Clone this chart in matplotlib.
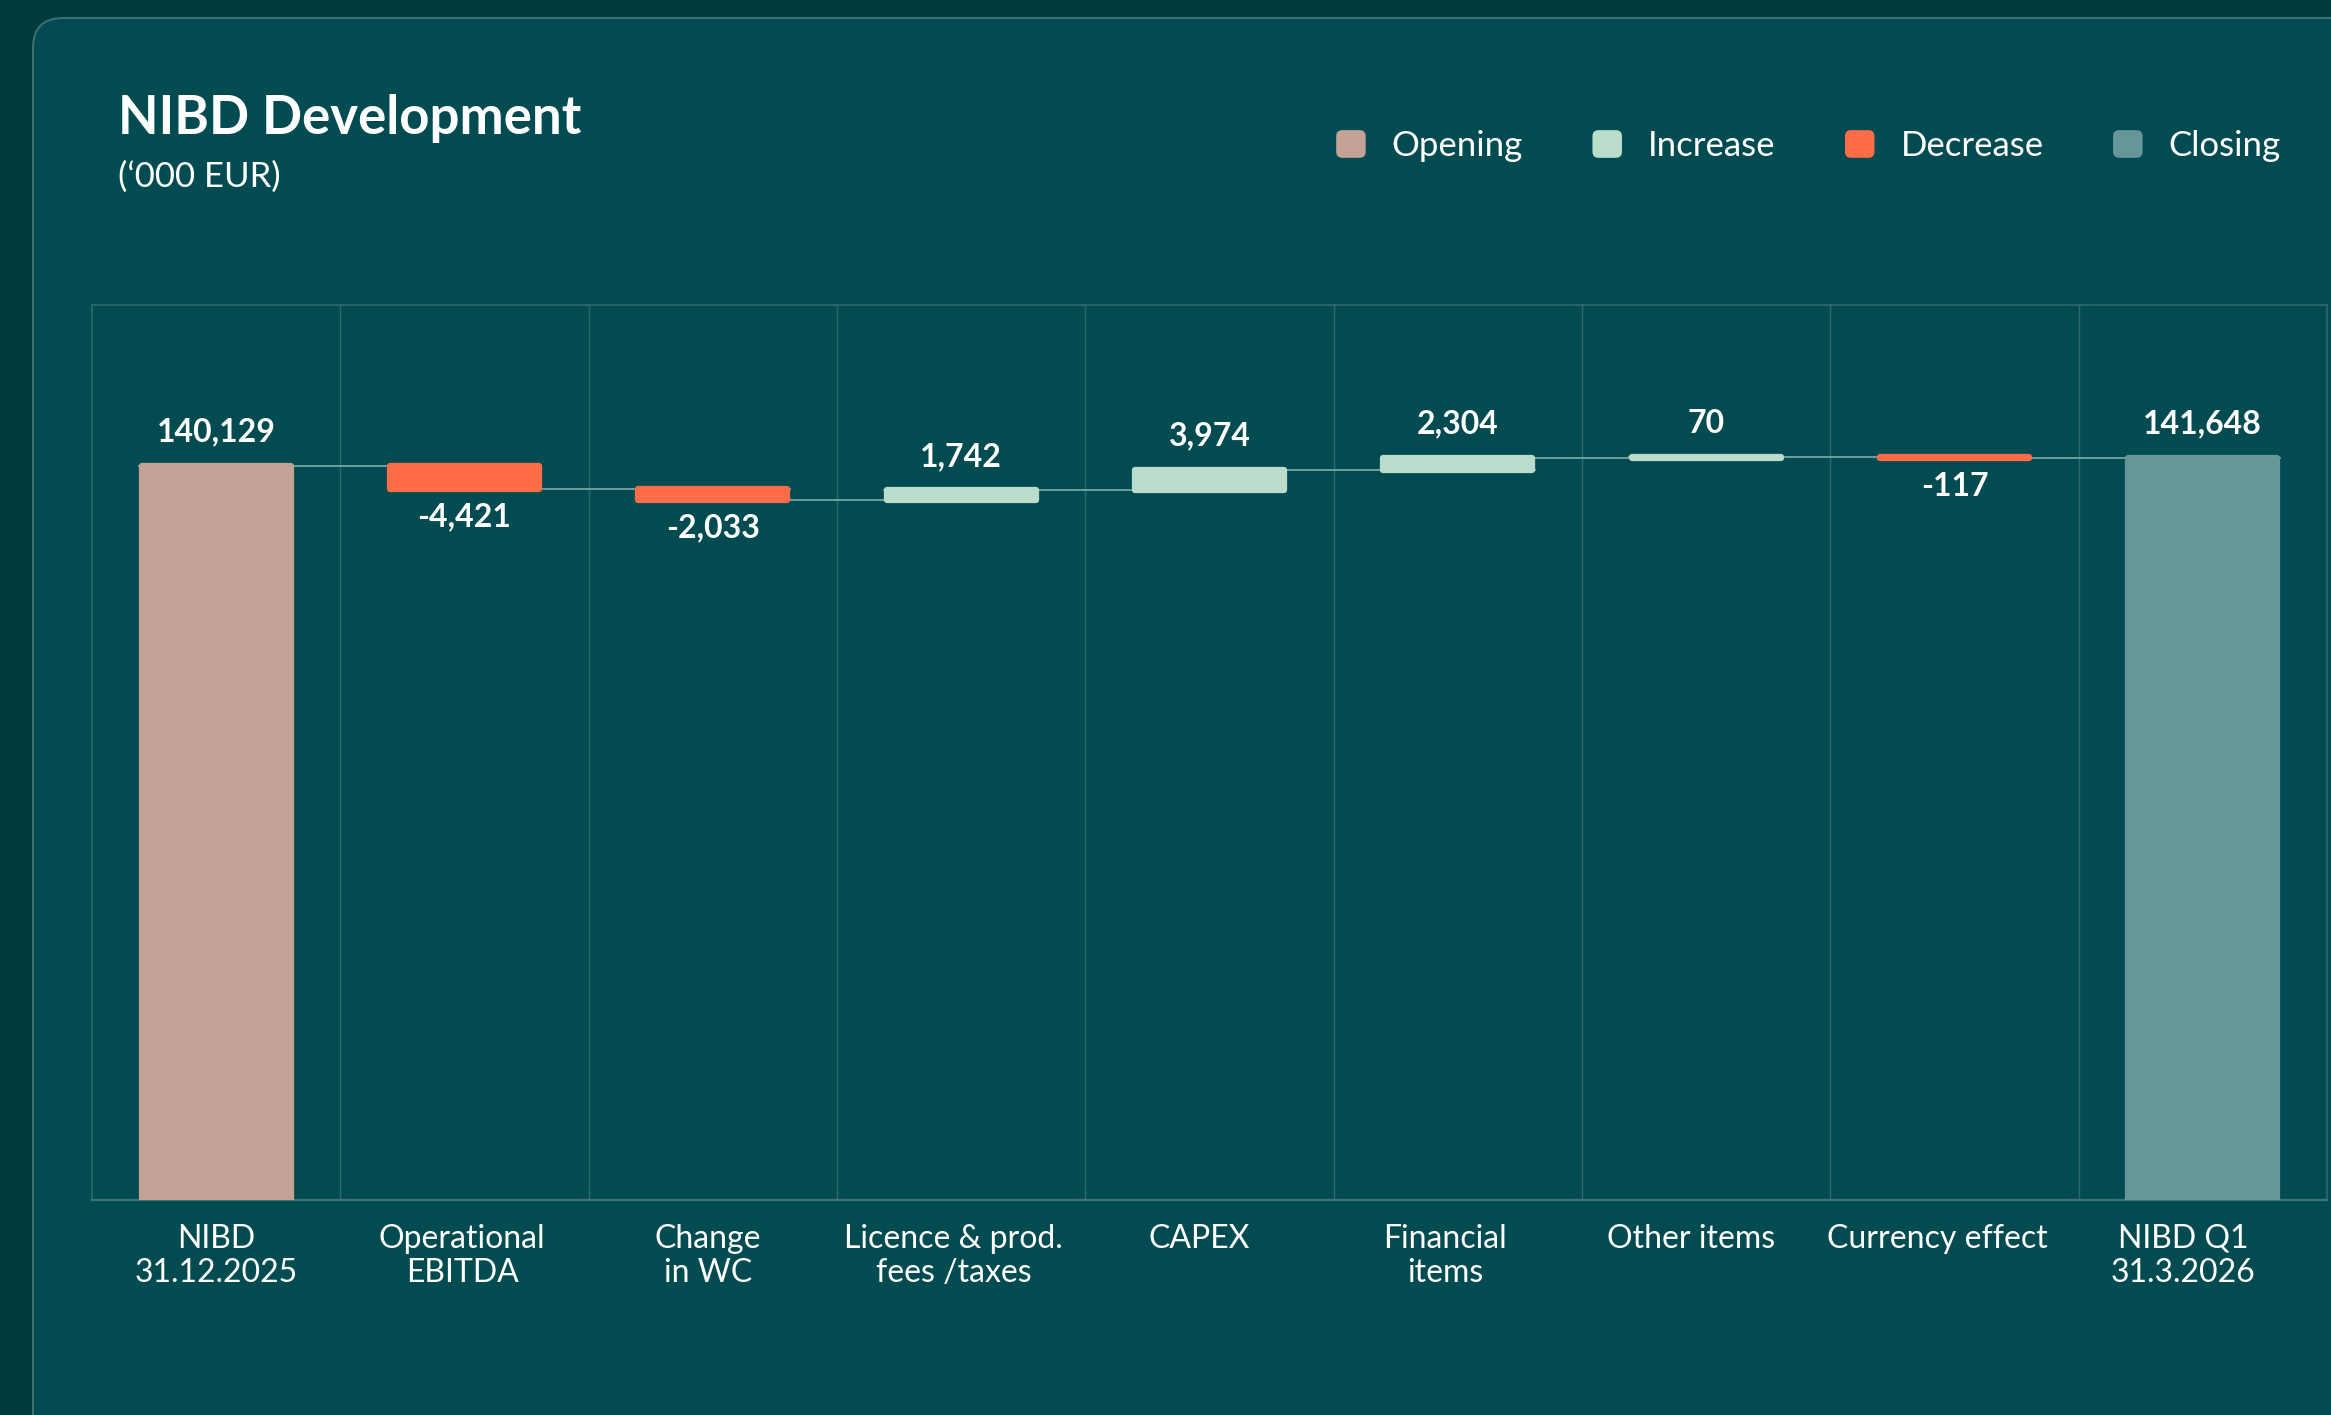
import matplotlib.pyplot as plt
import numpy as np
from matplotlib.patches import FancyBboxPatch, Patch
from matplotlib.legend_handler import HandlerPatch

# data ('000 EUR)
categories = ["NIBD\n31.12.2025", "Operational\nEBITDA", "Change\nin WC",
              "Licence & prod.\nfees /taxes", "CAPEX", "Financial\nitems",
              "Other items", "Currency effect", "NIBD Q1\n31.3.2026"]
opening = 140129
changes = [-4421, -2033, 1742, 3974, 2304, 70, -117]
closing = 141648
legend_labels = ["Opening", "Increase", "Decrease", "Closing"]

col_opening = "#c2a396"
col_increase = "#badccb"
col_decrease = "#ff6c48"
col_closing = "#66959a"
bg_outer = "#013a3e"
bg_card = "#024b50"
grid_col = "#2e6a6d"
conn_col = "#79a3a3"

plt.rcParams['font.family'] = ['Lato', 'DejaVu Sans']

levels = np.cumsum([opening] + changes)   # running total after each step
bottoms = [0] + list(levels[:-1]) + [0]
heights = [opening] + changes + [closing]
colors = [col_opening] + [col_increase if c > 0 else col_decrease for c in changes] + [col_closing]
x = np.arange(len(categories))
w = 0.6

fig = plt.figure(figsize=(23.31, 14.15), dpi=100, facecolor=bg_outer)
card = FancyBboxPatch((0.33, -1), 30, 14.15 - 0.18 + 1,
                      boxstyle="round,pad=0,rounding_size=0.3",
                      transform=fig.dpi_scale_trans, facecolor=bg_card,
                      edgecolor="#3b6f72", linewidth=1.5, zorder=-10)
fig.add_artist(card)

ax = fig.add_axes([92/2331, 1 - 1200/1415, (2327-92)/2331, (1200-305)/1415])
ax.set_facecolor('none')

ax.bar(x, heights, bottom=bottoms, width=w, color=colors, edgecolor=colors,
       linewidth=4.5, joinstyle='round', zorder=3)

# connectors between consecutive bars (drawn behind the bars)
for i in range(len(levels)):
    ax.plot([x[i] - w/2 - 0.01, x[i+1] + w/2 + 0.01], [levels[i], levels[i]],
            color=conn_col, lw=1.3, zorder=2)

# value labels
for i in range(len(heights)):
    h = heights[i]
    if i == 0 or i == len(heights) - 1 or h > 0:
        ax.annotate(f"{h:,}", (x[i], bottoms[i] + h), xytext=(0, 14),
                    textcoords='offset points', ha='center', va='bottom',
                    color='white', fontsize=23, fontweight='bold')
    else:
        ax.annotate(f"{h:,}", (x[i], bottoms[i] + h), xytext=(0, -10),
                    textcoords='offset points', ha='center', va='top',
                    color='white', fontsize=23, fontweight='bold')

for b in x[:-1] + 0.5:
    ax.axvline(b, color=grid_col, lw=1, zorder=1)

ax.set_xlim(-0.5, 8.5)
ax.set_ylim(0, 170800)
ax.set_yticks([])
ax.set_xticks(x * 0.99)
ax.set_xticklabels(categories, fontsize=23, color='white', fontweight='normal')
ax.tick_params(axis='x', length=0, pad=17)
for s in ax.spines.values():
    s.set_color(grid_col)
    s.set_linewidth(1.2)
ax.spines['bottom'].set_color("#3f7578")
ax.spines['bottom'].set_linewidth(1.6)

fig.text(118/2331, 1 - 134/1415, "NIBD Development", fontsize=38,
         fontweight='bold', color='white', va='baseline')
fig.text(118/2331, 1 - 187/1415, "(\u2018000 EUR)", fontsize=25,
         fontweight='normal', color='white', va='baseline')


def rounded(legend, orig_handle, xdescent, ydescent, width, height, fontsize):
    return FancyBboxPatch((-xdescent, -ydescent), width, height,
                          boxstyle=f"round,pad=0,rounding_size={0.22*height}")


handles = [Patch(facecolor=c, edgecolor='none')
           for c in [col_opening, col_increase, col_decrease, col_closing]]
fig.legend(handles, legend_labels, loc='center right',
           bbox_to_anchor=(2312/2331, 1 - 146/1415), ncol=4, frameon=False,
           prop={'size': 25, 'weight': 'normal'}, labelcolor='white',
           handlelength=0.85, handleheight=0.85, handletextpad=0.75,
           columnspacing=2.0, handler_map={Patch: HandlerPatch(patch_func=rounded)})

fig.savefig("out.png", dpi=100, facecolor=bg_outer)
